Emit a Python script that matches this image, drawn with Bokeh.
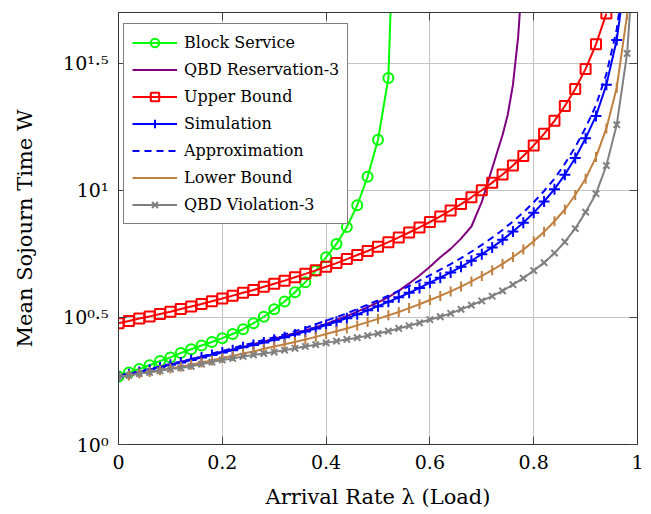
from bokeh.plotting import figure
from bokeh.models import Range1d, FixedTicker, LinearAxis, LogAxis, Legend, LegendItem
from bokeh.embed import file_html
from bokeh.resources import INLINE
import math

# ---------------- data ----------------
lam = [0.00, 0.02, 0.04, 0.06, 0.08, 0.10, 0.12, 0.14, 0.16, 0.18,
       0.20, 0.22, 0.24, 0.26, 0.28, 0.30, 0.32, 0.34, 0.36, 0.38,
       0.40, 0.42, 0.44, 0.46, 0.48, 0.50, 0.52, 0.54, 0.56, 0.58,
       0.60, 0.62, 0.64, 0.66, 0.68, 0.70, 0.72, 0.74, 0.76, 0.78,
       0.80, 0.82, 0.84, 0.86, 0.88, 0.90, 0.92, 0.94, 0.96, 0.98]

block_service = [1.85, 1.92, 1.98, 2.05, 2.13, 2.20, 2.29, 2.37, 2.45, 2.53,
                 2.62, 2.72, 2.84, 3.00, 3.18, 3.40, 3.65, 3.97, 4.35, 4.82,
                 5.45, 6.15, 7.16, 8.73, 11.3, 15.8, 27.6, 500.0]

res_lam = [0.00, 0.04, 0.08, 0.12, 0.16, 0.20, 0.24, 0.28, 0.32, 0.36, 0.40,
           0.44, 0.46, 0.48, 0.50, 0.52, 0.54, 0.56, 0.58, 0.60,
           0.62, 0.64, 0.66, 0.68, 0.70, 0.72, 0.74, 0.75, 0.76, 0.77, 0.78]
qbd_reservation = [1.85, 1.93, 2.02, 2.11, 2.21, 2.31, 2.42, 2.54, 2.67, 2.81, 2.98,
                   3.20, 3.33, 3.47, 3.62, 3.80, 4.02, 4.30, 4.62, 5.00,
                   5.45, 5.88, 6.45, 7.20, 9.00, 12.2, 16.5, 19.8, 26.0, 40.0, 80.0]

upper_bound = [3.00, 3.06, 3.13, 3.19, 3.26, 3.33, 3.41, 3.49, 3.57, 3.66,
               3.75, 3.85, 3.95, 4.05, 4.17, 4.29, 4.41, 4.55, 4.69, 4.84,
               5.00, 5.17, 5.36, 5.56, 5.77, 6.00, 6.25, 6.52, 6.82, 7.14,
               7.50, 7.89, 8.33, 8.82, 9.38, 10.0, 10.71, 11.54, 12.5, 13.64,
               15.0, 16.67, 18.75, 21.43, 25.0, 30.0, 37.5, 49.5]

simulation = [1.85, 1.89, 1.93, 1.97, 2.01, 2.06, 2.10, 2.15, 2.20, 2.25,
              2.30, 2.35, 2.41, 2.46, 2.52, 2.58, 2.64, 2.71, 2.78, 2.86,
              2.95, 3.04, 3.14, 3.25, 3.37, 3.50, 3.64, 3.79, 3.95, 4.13,
              4.33, 4.53, 4.75, 5.00, 5.28, 5.60, 5.96, 6.38, 6.88, 7.45,
              8.15, 9.03, 10.1, 11.5, 13.4, 16.0, 19.6, 26.0, 39.0, 77.5]

approximation = [1.85, 1.89, 1.93, 1.98, 2.02, 2.07, 2.11, 2.17, 2.22, 2.28,
                 2.33, 2.39, 2.46, 2.51, 2.58, 2.64, 2.71, 2.79, 2.87, 2.97,
                 3.07, 3.17, 3.28, 3.41, 3.55, 3.69, 3.85, 4.02, 4.20, 4.41,
                 4.63, 4.87, 5.12, 5.41, 5.73, 6.10, 6.51, 6.98, 7.54, 8.18,
                 8.97, 9.93, 11.1, 12.7, 14.8, 17.6, 21.6, 28.6, 42.9, 85.0]

lower_bound = [1.85, 1.87, 1.90, 1.93, 1.96, 1.99, 2.02, 2.06, 2.10, 2.14,
               2.19, 2.23, 2.28, 2.32, 2.38, 2.43, 2.48, 2.53, 2.59, 2.65,
               2.72, 2.79, 2.86, 2.94, 3.03, 3.12, 3.22, 3.32, 3.44, 3.56,
               3.70, 3.84, 4.00, 4.18, 4.38, 4.60, 4.85, 5.13, 5.46, 5.84,
               6.30, 6.86, 7.55, 8.40, 9.58, 11.1, 13.5, 17.5, 25.3, 49.0]

viol_lam = lam + [0.99]
qbd_violation = [1.85, 1.87, 1.90, 1.92, 1.95, 1.98, 2.00, 2.03, 2.07, 2.11,
                 2.15, 2.18, 2.22, 2.25, 2.28, 2.31, 2.35, 2.39, 2.43, 2.47,
                 2.51, 2.55, 2.59, 2.63, 2.68, 2.73, 2.79, 2.86, 2.93, 3.01,
                 3.10, 3.18, 3.28, 3.40, 3.53, 3.67, 3.83, 4.02, 4.25, 4.51,
                 4.83, 5.19, 5.66, 6.26, 7.07, 8.20, 9.69, 12.5, 18.1, 34.5, 68.0]

x_ticks = [0, 0.2, 0.4, 0.6, 0.8, 1]
x_tick_labels = ["0", "0.2", "0.4", "0.6", "0.8", "1"]
y_ticks = [1, 10 ** 0.5, 10, 10 ** 1.5]
y_tick_labels = ["10\u2070", "10\u2070\u00b7\u2075", "10\u00b9", "10\u00b9\u00b7\u2075"]

series_names = ["Block Service", "QBD Reservation-3", "Upper Bound", "Simulation",
                "Approximation", "Lower Bound", "QBD Violation-3"]

# ---------------- styling ----------------
FONT = "DejaVu Serif"
GREEN, PURPLE, RED, BLUE, BROWN, GREY = "#00ff00", "#800080", "#ff0000", "#0000ff", "#bf8040", "#808080"
LW = 2

p = figure(width=651, height=514, x_range=Range1d(0, 1), y_range=Range1d(1, 50),
           y_axis_type="log", output_backend="svg", toolbar_location=None,
           min_border_left=118, min_border_right=14, min_border_top=12, min_border_bottom=70)
p.background_fill_color = "white"
p.border_fill_color = "white"
p.outline_line_color = "#333333"
p.outline_line_width = 1

xt = FixedTicker(ticks=x_ticks)
yt = FixedTicker(ticks=y_ticks)

for ax in p.xaxis:
    ax.ticker = xt
    ax.major_label_overrides = dict(zip(x_ticks, x_tick_labels))
    ax.axis_label = "Arrival Rate \u03bb (Load)"
for ax in p.yaxis:
    ax.ticker = yt
    ax.major_label_overrides = dict(zip(y_ticks, y_tick_labels))
    ax.axis_label = "Mean Sojourn Time W"

for ax in list(p.xaxis) + list(p.yaxis):
    ax.major_label_text_font = FONT
    ax.major_label_text_font_size = "19px"
    ax.major_label_text_color = "black"
    ax.axis_label_text_font = FONT
    ax.axis_label_text_font_size = "21px"
    ax.axis_label_text_font_style = "normal"
    ax.axis_label_text_color = "black"
    ax.major_tick_in = 8
    ax.major_tick_out = 0
    ax.major_tick_line_color = "#444444"
    ax.minor_tick_line_color = None
    ax.axis_line_color = "#333333"
    ax.major_label_standoff = 10
p.xaxis.axis_label_standoff = 13
p.yaxis.axis_label_standoff = 23

# mirrored ticks on top and right
top_ax = LinearAxis(ticker=xt, major_label_overrides={t: "" for t in x_ticks},
                    major_tick_in=8, major_tick_out=0, minor_tick_line_color=None,
                    major_tick_line_color="#444444", axis_line_color="#333333",
                    major_label_standoff=0, major_label_text_font_size="1px")
p.add_layout(top_ax, "above")
right_ax = LogAxis(ticker=yt, major_label_overrides={t: "" for t in y_ticks},
                   major_tick_in=8, major_tick_out=0, minor_tick_line_color=None,
                   major_tick_line_color="#444444", axis_line_color="#333333",
                   major_label_standoff=0, major_label_text_font_size="1px")
p.add_layout(right_ax, "right")

p.xgrid.ticker = xt
p.ygrid.ticker = yt
p.xgrid.grid_line_color = "#c4c4c4"
p.ygrid.grid_line_color = "#c4c4c4"
p.xgrid.grid_line_width = 1
p.ygrid.grid_line_width = 1

# ---------------- series ----------------
bx = lam[:len(block_service)]
l1 = p.line(bx, block_service, line_color=GREEN, line_width=LW)
s1 = p.scatter(bx, block_service, marker="circle", size=10, line_color=GREEN,
               line_width=LW, fill_color=None)

l2 = p.line(res_lam, qbd_reservation, line_color=PURPLE, line_width=LW)

ux = lam[:len(upper_bound)]
l3 = p.line(ux, upper_bound, line_color=RED, line_width=LW)
s3 = p.scatter(ux, upper_bound, marker="square", size=10, line_color=RED,
               line_width=LW, fill_color=None)

l4 = p.line(lam, simulation, line_color=BLUE, line_width=LW)
s4 = p.scatter(lam, simulation, marker="cross", size=11, line_color=BLUE, line_width=LW)

l5 = p.line(lam, approximation, line_color=BLUE, line_width=LW, line_dash="7 5")

l6 = p.line(lam, lower_bound, line_color=BROWN, line_width=LW)
s6 = p.scatter(lam, lower_bound, marker="dash", angle=math.pi / 2, size=10,
               line_color=BROWN, line_width=LW)

l7 = p.line(viol_lam, qbd_violation, line_color=GREY, line_width=LW)
s7 = p.scatter(viol_lam, qbd_violation, marker="x", size=9, line_color=GREY, line_width=LW)

renderer_groups = [[l1, s1], [l2], [l3, s3], [l4, s4], [l5], [l6, s6], [l7, s7]]
items = [LegendItem(label=n, renderers=r) for n, r in zip(series_names, renderer_groups)]
legend = Legend(items=items, location=(5, 220), margin=0, padding=8, spacing=6,
                glyph_width=45, glyph_height=21, label_height=21, label_width=149,
                label_standoff=7, label_text_font=FONT, label_text_font_size="16px",
                label_text_color="black", border_line_color="black", border_line_width=1,
                background_fill_color="white", background_fill_alpha=1)
p.add_layout(legend)

open("out.html", "w").write(file_html(p, INLINE))
